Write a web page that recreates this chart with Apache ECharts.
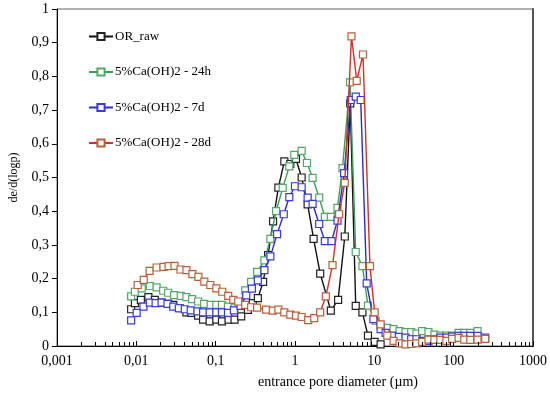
<!DOCTYPE html>
<html><head><meta charset="utf-8">
<script src="https://cdn.jsdelivr.net/npm/echarts@6/dist/echarts.min.js"></script>
<style>html,body{margin:0;padding:0;background:#fff}#c{width:550px;height:394px}</style>
</head><body><div id="c"></div>
<script>
// ---- data (diameter in µm, value de/d(logp)) ----
const seriesNames = ['OR_raw', '5%Ca(OH)2 - 24h', '5%Ca(OH)2 - 7d', '5%Ca(OH)2 - 28d'];
const xTickLabels = ['0,001', '0,01', '0,1', '1', '10', '100', '1000'];
const yTickLabels = ['0', '0,1', '0,2', '0,3', '0,4', '0,5', '0,6', '0,7', '0,8', '0,9', '1'];

const rawD = [0.0086,0.0096,0.0114,0.0142,0.0171,0.0208,0.0252,0.0292,0.0353,0.0428,0.0495,0.0601,0.0694,0.0840,0.102,0.120,0.1455,0.173,0.210,0.255,0.294,0.340,0.3965,0.458,0.529,0.617,0.734,0.873,1.029,1.213,1.443,1.716,2.077,2.829,3.495,4.241,4.97,5.83,7.074,8.316,10.09,12.0];
const rawV = [0.109,0.127,0.137,0.145,0.137,0.129,0.125,0.122,0.112,0.100,0.098,0.090,0.078,0.073,0.078,0.073,0.078,0.078,0.088,0.107,0.127,0.142,0.19,0.27,0.37,0.47,0.548,0.540,0.555,0.50,0.42,0.318,0.215,0.105,0.137,0.325,0.72,0.119,0.100,0.031,0.012,0.005];

const h24D = [0.0086,0.0096,0.0117,0.0148,0.018,0.0218,0.0252,0.030,0.0363,0.0428,0.0505,0.0601,0.0714,0.0865,0.102,0.120,0.143,0.173,0.200,0.236,0.280,0.333,0.4116,0.4897,0.5773,0.7007,0.8479,0.9797,1.213,1.414,1.667,2.018,2.379,2.829,3.434,3.968,4.943,5.83,7.074,8.316,10.39,12.0,14.57,17.48,20.79,24.73,29.15,33.98,40.07,48.07,57.17,68.0,80.84,95.35,115.4,136.0,161.8,199.8];
const h24V = [0.147,0.161,0.171,0.178,0.174,0.164,0.158,0.151,0.149,0.145,0.139,0.132,0.125,0.122,0.122,0.122,0.117,0.112,0.127,0.165,0.19,0.22,0.254,0.318,0.40,0.469,0.533,0.567,0.579,0.543,0.499,0.44,0.383,0.383,0.41,0.528,0.782,0.279,0.237,0.12,0.075,0.06,0.054,0.05,0.044,0.041,0.041,0.037,0.044,0.041,0.034,0.031,0.031,0.031,0.039,0.039,0.039,0.044];

const d7D = [0.0086,0.0101,0.0123,0.0148,0.0175,0.0208,0.0247,0.0292,0.0343,0.0408,0.0485,0.0589,0.0694,0.0840,0.102,0.120,0.143,0.170,0.206,0.243,0.286,0.340,0.4116,0.4897,0.5943,0.7211,0.8479,0.9998,1.213,1.443,1.667,2.018,2.379,2.887,3.434,4.156,5.045,5.83,6.735,8.009,9.721,12.0,13.87,16.84,20.37,24.73,29.15,33.98,40.07,48.07,57.17,68.0,80.84,95.35,115.4,136.0,161.8,199.8,249.7];
const d7V = [0.076,0.098,0.117,0.129,0.127,0.129,0.125,0.117,0.112,0.109,0.106,0.103,0.100,0.100,0.100,0.100,0.098,0.106,0.119,0.15,0.17,0.195,0.225,0.266,0.332,0.391,0.442,0.474,0.471,0.44,0.422,0.362,0.311,0.311,0.372,0.513,0.73,0.74,0.73,0.186,0.08,0.05,0.039,0.031,0.027,0.025,0.02,0.02,0.015,0.015,0.02,0.025,0.025,0.028,0.03,0.03,0.03,0.03,0.025];

const d28D = [0.0104,0.0124,0.0147,0.018,0.022,0.0255,0.0303,0.036,0.0428,0.0509,0.0606,0.072,0.0857,0.102,0.121,0.144,0.167,0.1925,0.236,0.280,0.3334,0.4325,0.5248,0.6171,0.7339,0.8728,1.029,1.213,1.468,1.746,2.077,2.449,2.972,3.597,4.241,5.148,5.999,7.198,8.81,10.09,12.0,14.57,17.48,20.79,24.73,29.15,33.98,40.07,48.07,57.17,68.0,80.84,95.35,115.4,136.0,161.8,199.8,249.7];
const d28V = [0.181,0.196,0.223,0.233,0.235,0.237,0.238,0.227,0.225,0.213,0.205,0.191,0.181,0.171,0.161,0.149,0.137,0.132,0.122,0.115,0.114,0.108,0.105,0.108,0.100,0.093,0.090,0.086,0.077,0.083,0.10,0.147,0.24,0.391,0.484,0.919,0.787,0.865,0.237,0.10,0.064,0.031,0.015,0.008,0.005,0.006,0.008,0.012,0.019,0.018,0.018,0.015,0.021,0.024,0.019,0.018,0.019,0.021];

const lineColors = ['#111111', '#429c5a', '#2a2ad8', '#d0302a'];
const markColors = ['#222222', '#52a86a', '#3a3ae0', '#b8603a'];

// minor tick positions of the log axis (2..9 in each decade)
const minorTicks = [];
for (let e = -3; e <= 2; e++) for (let k = 2; k <= 9; k++) minorTicks.push(+(k * Math.pow(10, e)).toPrecision(3));

function pairs(d, v) { return d.map((x, i) => [x, v[i]]); }
const allData = [pairs(rawD, rawV), pairs(h24D, h24V), pairs(d7D, d7V), pairs(d28D, d28V)];

const FONT = 'Liberation Serif';
const chart = echarts.init(document.getElementById('c'), null, {renderer: 'canvas'});
const series = allData.map((data, i) => ({
  name: seriesNames[i], type: 'line', data: data,
  symbol: 'rect', symbolSize: 7, showAllSymbol: true,
  lineStyle: {color: lineColors[i], width: 1.4},
  itemStyle: {color: '#fff', borderColor: markColors[i], borderWidth: 1.2},
  z: 2 + i
}));
series.push({
  type: 'custom', coordinateSystem: 'cartesian2d', silent: true, z: 10, clip: false,
  data: minorTicks.map(v => [v, 0]),
  encode: {x: 0, y: 1},
  renderItem: function (params, api) {
    const p = api.coord([api.value(0), 0]);
    return {type: 'line', shape: {x1: Math.round(p[0]) + 0.5, y1: p[1], x2: Math.round(p[0]) + 0.5, y2: p[1] - 4},
      style: {stroke: '#000', lineWidth: 1}};
  }
});
chart.setOption({
  animation: false,
  backgroundColor: '#fff',
  grid: {left: 55, right: 17, top: 9, bottom: 44, show: true, borderColor: '#666', borderWidth: 1},
  legend: {
    orient: 'vertical', left: 83, top: 25, itemGap: 22.5, itemWidth: 24, itemHeight: 9,
    data: seriesNames,
    textStyle: {fontFamily: FONT, fontSize: 13, color: '#000', padding: [0, 0, 0, -3]}
  },
  xAxis: [{
    type: 'log', logBase: 10, min: 0.001, max: 1000,
    name: 'entrance pore diameter (µm)', nameLocation: 'middle', nameGap: 29,
    nameTextStyle: {fontFamily: FONT, fontSize: 14, color: '#000', padding: [0, 0, 0, 86]},
    axisLine: {lineStyle: {color: '#000', width: 1}},
    axisTick: {inside: true, length: 5, lineStyle: {color: '#000'}},
    minorTick: {show: false},
    splitLine: {show: false},
    axisLabel: {fontFamily: FONT, fontSize: 14, color: '#000', margin: 8,
      formatter: v => xTickLabels[Math.round(Math.log10(v)) + 3]}
  }],
  yAxis: [{
    type: 'value', min: 0, max: 1, interval: 0.1,
    name: 'de/d(logp)', nameLocation: 'middle', nameGap: 37,
    nameTextStyle: {fontFamily: FONT, fontSize: 12, color: '#000'},
    axisLine: {show: true, lineStyle: {color: '#000', width: 1}},
    axisTick: {show: true, length: 5, lineStyle: {color: '#000'}},
    splitLine: {show: false},
    axisLabel: {fontFamily: FONT, fontSize: 14, color: '#000', margin: 8,
      formatter: v => yTickLabels[Math.round(v * 10)]}
  }, {
    type: 'value', min: 0, max: 1, position: 'right',
    axisLine: {show: true, lineStyle: {color: '#555', width: 2}},
    axisTick: {show: false}, axisLabel: {show: false}, splitLine: {show: false}
  }],
  series: series
});
</script></body></html>
